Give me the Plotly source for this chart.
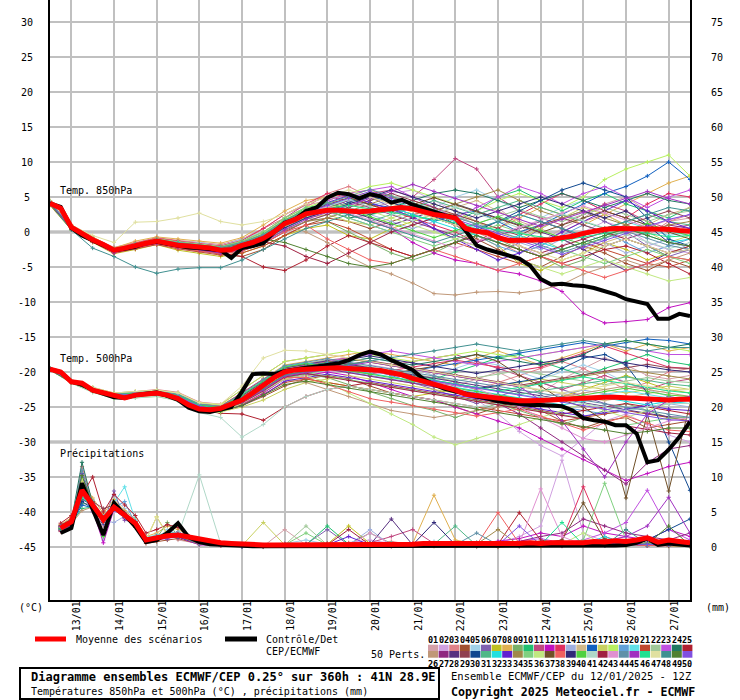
import plotly.graph_objects as go

# ---------------- data ----------------
HOURS_6 = list(range(0, 361, 6))
HOURS_12 = list(range(0, 361, 12))
PRECIP_HOURS = list(range(6, 361, 6))
PRECIP_MEMBER_HOURS = [6, 12, 18, 24, 30, 36, 42, 48, 54, 60, 66, 72] + list(range(84, 361, 12))

DATE_HOURS = [12, 36, 60, 84, 108, 132, 156, 180, 204, 228, 252, 276, 300, 324, 348]
DATE_LABELS = ["13/01", "14/01", "15/01", "16/01", "17/01", "18/01", "19/01", "20/01",
               "21/01", "22/01", "23/01", "24/01", "25/01", "26/01", "27/01"]
LEFT_TICKS = [30, 25, 20, 15, 10, 5, 0, -5, -10, -15, -20, -25, -30, -35, -40, -45]
RIGHT_TICKS = [75, 70, 65, 60, 55, 50, 45, 40, 35, 30, 25, 20, 15, 10, 5, 0]

MEMBER_COLORS = [
    "#d4a0a8", "#d0a0e0", "#e08088", "#a05030", "#a0d0e8", "#8060b0", "#c0c020", "#e0b050", "#78b068", "#20c070",
    "#c04880", "#c010c0", "#e03060", "#a0b0e0", "#d0b888", "#1060c0", "#c8d060", "#b8f060", "#60a0d8", "#60e0e8",
    "#c04830", "#a0c898", "#c050e0", "#207860", "#b02030",
    "#c09878", "#902880", "#583080", "#904050", "#104890", "#50b888", "#20e0e0", "#6020d0", "#a08848", "#80d080",
    "#c0e880", "#705028", "#f06060", "#302878", "#50d040", "#b0d8c8", "#a02040", "#e090d0", "#6090a8", "#a030c0",
    "#20e090", "#e0e0a0", "#409090", "#508030", "#8050e0",
]

MEAN_T850 = [4.1, 3.4, 0.7, -0.3, -1.1, -1.8, -2.6, -2.3, -1.9, -1.6,
             -1.3, -1.6, -1.9, -2.0, -2.1, -2.3, -2.6, -2.5, -1.9, -1.5,
             -0.9, 0.0, 1.2, 1.8, 2.6, 2.9, 3.1, 3.1, 3.0, 2.9,
             3.0, 3.2, 3.4, 3.5, 3.3, 2.9, 2.5, 2.3, 2.0, 0.5,
             0.1, -0.1, -0.8, -1.2, -1.2, -1.1, -1.2, -1.1, -0.8, -0.6,
             -0.2, 0.1, 0.4, 0.5, 0.5, 0.5, 0.4, 0.4, 0.4, 0.2, 0.1]
CONTROL_T850 = [4.1, 3.6, 0.6, -0.5, -1.2, -1.9, -2.6, -2.4, -2.1, -1.6,
                -1.4, -1.7, -2.0, -2.2, -2.3, -2.5, -2.6, -3.7, -2.3, -2.0,
                -1.6, 0.0, 1.3, 1.8, 3.0, 3.5, 4.9, 5.6, 5.4, 4.8,
                5.4, 5.1, 4.2, 4.6, 3.9, 3.4, 2.9, 2.4, 2.1, 0.2,
                -1.9, -2.5, -2.9, -3.3, -3.8, -4.8, -6.7, -7.5, -7.4, -7.6,
                -7.7, -8.0, -8.4, -8.9, -9.6, -10.0, -10.3, -12.4, -12.4, -11.7, -12.0]
MEAN_T500 = [-19.6, -20.0, -21.4, -21.6, -22.6, -23.0, -23.3, -23.7, -23.3, -23.1,
             -23.0, -23.3, -23.8, -24.7, -25.3, -25.4, -25.2, -24.6, -24.0, -23.0,
             -21.8, -20.8, -20.0, -19.7, -19.6, -19.5, -19.4, -19.4, -19.5, -19.6,
             -19.6, -19.8, -20.1, -20.4, -20.9, -21.3, -21.8, -22.2, -22.6, -23.2,
             -23.4, -23.6, -23.8, -24.0, -24.1, -24.1, -24.1, -24.0, -23.9, -23.8,
             -23.7, -23.6, -23.6, -23.6, -23.7, -23.7, -23.8, -23.9, -24.0, -23.9, -23.9]
CONTROL_T500 = [-19.6, -20.0, -21.4, -21.8, -22.6, -23.1, -23.6, -23.7, -23.3, -23.1,
                -22.9, -23.4, -24.0, -25.1, -25.6, -25.7, -25.4, -25.0, -22.8, -20.3,
                -20.2, -20.3, -19.9, -19.6, -19.4, -19.2, -19.0, -18.8, -18.3, -17.6,
                -17.1, -17.5, -18.3, -19.0, -19.7, -21.0, -21.8, -22.4, -22.8, -23.2,
                -23.5, -23.8, -24.2, -24.4, -24.6, -24.7, -24.7, -24.8, -24.9, -25.5,
                -26.6, -26.9, -27.1, -27.6, -27.6, -28.8, -32.9, -32.6, -31.1, -29.3, -27.1]
MEAN_PRECIP = [2.7, 3.6, 8.1, 6.0, 3.9, 5.7, 4.5, 3.4, 1.0, 1.3,
               1.6, 1.7, 1.4, 1.1, 0.9, 0.6, 0.5, 0.4, 0.3, 0.3,
               0.3, 0.3, 0.3, 0.3, 0.3, 0.3, 0.3, 0.3, 0.3, 0.3,
               0.3, 0.4, 0.4, 0.4, 0.5, 0.5, 0.5, 0.4, 0.4, 0.4,
               0.4, 0.5, 0.5, 0.5, 0.6, 0.5, 0.6, 0.6, 0.7, 0.6,
               0.8, 0.7, 0.9, 0.8, 1.0, 1.3, 0.7, 1.0, 0.8, 0.6]
CONTROL_PRECIP = [2.0, 2.7, 9.1, 5.5, 1.7, 6.3, 4.5, 2.9, 0.7, 1.0,
                  2.0, 3.4, 1.4, 0.7, 0.4, 0.3, 0.2, 0.2, 0.1, 0.1,
                  0.1, 0.1, 0.1, 0.1, 0.1, 0.1, 0.1, 0.1, 0.1, 0.1,
                  0.1, 0.1, 0.1, 0.1, 0.1, 0.1, 0.1, 0.1, 0.1, 0.1,
                  0.1, 0.1, 0.1, 0.1, 0.1, 0.1, 0.1, 0.1, 0.1, 0.1,
                  0.2, 0.2, 0.2, 0.3, 0.6, 1.2, 0.3, 0.5, 0.3, 0.2]

T850_MEMBERS = [
    [4.2, 0.8, -1.0, -2.5, -1.8, -1.0, -1.5, -2.0, -2.2, -1.5, 0.5, 2.5, 3.8, 4.5, 4.0, 3.5, 4.2, 3.0, 2.0, 1.0, 2.5, 3.5, 1.0, -1.5, 0.5, 2.0, 4.0, 5.0, 3.0, 1.5, 2.0],
    [3.9, 0.4, -1.4, -3.0, -2.2, -1.6, -2.4, -2.8, -3.0, -2.6, -1.5, 0.0, 1.5, 2.0, 3.5, 4.5, 5.5, 6.0, 4.5, 3.0, 1.5, -0.5, -2.0, -3.5, -2.0, 0.0, 1.5, 0.5, -1.5, -2.5, -3.0],
    [4.4, 0.9, -0.8, -2.2, -1.5, -0.8, -1.2, -1.5, -1.8, -1.0, 0.5, 2.0, 3.5, 5.5, 6.5, 5.0, 4.0, 4.5, 3.5, 2.0, 0.0, -1.5, -3.0, -2.0, 0.0, 1.5, 2.5, 1.0, -0.5, 1.5, 2.5],
    [4.0, 0.5, -1.3, -2.9, -2.3, -1.7, -2.2, -2.5, -3.2, -3.5, -2.5, -0.5, 1.0, 2.0, 1.5, 0.5, 1.5, 2.5, 3.0, 1.0, -1.0, -2.5, -4.0, -5.0, -3.5, -2.0, -3.0, -4.5, -5.5, -4.0, -5.0],
    [4.3, 0.7, -1.0, -2.6, -1.6, -1.0, -1.4, -1.5, -2.0, -1.0, 0.0, 1.5, 3.0, 3.5, 3.0, 3.8, 4.5, 4.0, 3.5, 5.0, 6.0, 4.5, 3.0, 2.0, 3.5, 4.5, 3.0, 2.0, 1.0, 0.0, -0.5],
    [4.1, 0.6, -1.2, -2.7, -2.0, -1.3, -1.8, -2.4, -2.6, -2.0, -1.0, 1.0, 2.0, 3.0, 4.0, 5.0, 3.5, 2.0, 0.5, -1.0, -2.0, -3.0, -1.5, 0.5, 2.0, 3.0, 1.5, 0.0, -2.0, -3.5, -2.5],
    [3.8, 0.3, -1.5, -3.1, -2.5, -1.8, -2.6, -3.0, -3.5, -3.0, -2.0, -0.5, 0.5, 1.0, -0.5, -1.0, 0.5, 1.5, 2.5, 1.5, -0.5, -2.0, -4.5, -5.5, -4.0, -3.0, -1.5, -2.5, -4.0, -3.0, -2.0],
    [4.5, 1.0, -0.7, -2.3, -1.3, -0.7, -1.0, -1.3, -1.6, -0.8, 1.0, 3.0, 4.5, 5.0, 5.5, 6.0, 5.0, 4.0, 3.0, 2.5, 1.5, 0.5, 2.0, 3.5, 2.5, 1.0, 2.5, 4.0, 5.5, 7.0, 8.0],
    [4.0, 0.4, -1.3, -2.8, -2.1, -1.5, -2.0, -2.3, -2.8, -2.5, -1.5, 0.5, 2.0, 1.5, 0.0, -1.5, -3.0, -4.0, -3.0, -1.5, 0.0, -1.0, -2.5, -3.5, -5.0, -4.0, -2.0, -1.0, -2.0, -3.5, -4.0],
    [4.2, 0.8, -1.1, -2.6, -1.9, -1.2, -1.7, -2.0, -2.3, -1.6, -0.5, 1.5, 3.5, 4.0, 3.5, 2.5, 3.0, 3.5, 2.5, 1.5, 3.0, 5.0, 6.0, 4.5, 3.0, 4.5, 5.5, 4.0, 3.0, 2.0, 3.5],
    [4.3, 0.9, -0.9, -2.4, -1.7, -1.1, -1.6, -1.9, -2.1, -1.4, 0.0, 2.0, 4.0, 5.0, 4.5, 5.5, 6.0, 5.0, 7.5, 10.5, 9.0, 5.0, 3.0, 2.0, 1.0, 2.5, 4.0, 3.0, 1.5, 0.5, 1.0],
    [4.0, 0.5, -1.2, -2.8, -2.2, -1.6, -2.1, -2.4, -2.9, -2.3, -1.0, 1.0, 2.5, 3.5, 2.5, 1.5, 0.5, -1.5, -3.0, -4.0, -4.5, -5.5, -6.0, -7.0, -8.5, -11.6, -13.0, -12.8, -12.5, -10.8, -10.1],
    [4.4, 0.8, -0.9, -2.4, -1.6, -0.9, -1.3, -1.7, -2.0, -1.2, 0.5, 2.5, 4.0, 5.5, 5.0, 4.0, 3.0, 2.0, 1.0, 0.0, -1.5, 0.5, 2.5, 4.0, 5.5, 4.5, 3.0, 2.0, 4.0, 5.5, 5.0],
    [4.1, 0.6, -1.2, -2.7, -2.0, -1.4, -1.9, -2.2, -2.7, -2.2, -1.2, 0.5, 1.5, 2.5, 3.5, 2.5, 1.5, 0.5, 1.5, 2.5, 1.0, -0.5, -1.5, -2.5, -1.0, 0.0, -1.5, -3.0, -2.0, -1.0, -2.5],
    [4.3, 0.7, -1.0, -2.5, -1.8, -1.2, -1.7, -2.1, -2.4, -1.8, -0.5, 1.5, 3.0, 4.5, 5.5, 5.0, 4.5, 3.5, 2.5, 3.5, 4.5, 3.0, 1.5, 0.5, -1.0, -2.5, -1.5, -0.5, 1.0, 2.5, 3.5],
    [4.2, 0.6, -1.1, -2.6, -1.9, -1.3, -1.8, -2.2, -2.5, -1.9, -0.8, 1.0, 2.5, 3.5, 4.5, 4.0, 3.5, 2.5, 1.5, 2.5, 3.0, 1.5, 0.0, 1.0, 2.5, 4.0, 5.5, 6.5, 8.0, 10.0, 7.5],
    [4.0, 0.5, -1.3, -2.9, -2.2, -1.6, -2.1, -2.5, -2.9, -2.4, -1.3, 0.5, 2.0, 2.5, 1.5, 1.0, 2.0, 3.0, 4.0, 3.0, 1.5, 0.0, -1.0, 0.5, 2.0, 3.5, 2.5, 1.0, 0.0, -1.5, -0.5],
    [4.4, 0.9, -0.9, -2.4, -1.7, -1.0, -1.4, -1.8, -2.1, -1.3, 0.0, 2.0, 3.5, 4.5, 5.5, 6.5, 7.0, 6.0, 5.0, 4.0, 3.0, 4.5, 5.5, 4.5, 3.5, 5.0, 7.5, 9.0, 10.0, 11.0, 8.0],
    [4.1, 0.5, -1.2, -2.8, -2.1, -1.5, -2.0, -2.4, -2.8, -2.3, -1.2, 0.5, 2.0, 3.0, 2.0, 1.0, 0.0, 1.0, 2.0, 1.0, -0.5, -2.0, -3.0, -2.0, -0.5, 1.0, 0.0, -1.5, -3.0, -2.0, -1.0],
    [4.2, 0.7, -1.1, -2.6, -1.9, -1.2, -1.7, -2.1, -2.4, -1.7, -0.6, 1.5, 3.0, 4.0, 4.5, 5.5, 4.5, 3.5, 2.5, 1.5, 0.5, 1.5, 2.5, 1.5, 0.5, -0.5, 0.5, 1.5, 0.5, -0.5, 0.0],
    [4.0, 0.4, -1.4, -3.0, -2.4, -1.8, -2.4, -2.8, -3.3, -3.0, -2.0, -0.5, 1.0, 1.5, 0.5, -1.0, -2.5, -3.5, -2.5, -1.5, -2.5, -3.5, -4.5, -3.5, -2.5, -1.5, -2.5, -3.5, -4.5, -5.0, -4.0],
    [4.3, 0.8, -1.0, -2.5, -1.8, -1.1, -1.5, -1.9, -2.2, -1.5, -0.2, 1.8, 3.2, 4.2, 3.8, 4.5, 5.2, 4.2, 3.2, 2.2, 1.2, 2.2, 3.2, 2.2, 1.5, 2.5, 3.5, 2.5, 1.5, 2.5, 3.0],
    [4.1, 0.6, -1.2, -2.7, -2.0, -1.4, -1.9, -2.2, -2.6, -2.0, -0.9, 1.2, 2.8, 4.5, 5.5, 6.0, 6.5, 5.0, 3.5, 2.0, 3.5, 5.0, 6.5, 5.5, 4.0, 5.5, 6.5, 5.0, 3.5, 5.0, 6.0],
    [4.2, 0.7, -1.1, -2.6, -1.9, -1.3, -1.8, -2.1, -2.5, -1.8, -0.7, 1.3, 2.5, 3.0, 2.0, 2.5, 3.5, 4.5, 5.5, 6.0, 5.5, 4.5, 3.5, 4.5, 5.5, 4.5, 3.5, 4.5, 5.5, 4.5, 4.0],
    [4.0, 0.5, -1.3, -2.9, -2.2, -1.6, -2.1, -2.5, -3.0, -3.5, -5.0, -5.5, -4.0, -2.0, -0.5, -1.5, -2.5, -3.5, -2.5, -1.5, -0.5, -1.5, -2.5, -3.5, -4.5, -3.5, -2.5, -2.0, -3.0, -4.5, -6.0],
    [4.3, 0.8, -1.0, -2.5, -1.8, -1.1, -1.6, -2.0, -2.3, -1.6, -0.6, 1.0, 0.0, -1.5, -3.5, -5.0, -6.0, -7.3, -8.8, -9.0, -8.6, -8.5, -8.7, -8.3, -7.5, -6.0, -5.0, -4.0, -5.0, -4.0, -3.0],
    [4.1, 0.6, -1.2, -2.7, -2.0, -1.4, -1.9, -2.3, -2.7, -2.1, -1.0, 1.0, 2.5, 3.5, 4.5, 3.5, 2.5, 1.5, 0.5, -0.5, -1.5, -0.5, 0.5, 1.5, 0.5, -1.0, -2.0, -1.0, 0.0, 1.0, 0.5],
    [4.2, 0.7, -1.1, -2.6, -1.9, -1.2, -1.7, -2.0, -2.4, -1.7, -0.5, 1.5, 3.0, 3.8, 3.0, 2.0, 1.0, 2.0, 3.0, 4.0, 3.0, 2.0, 1.0, 0.0, -1.0, -2.5, -4.0, -5.5, -4.5, -3.0, -2.5],
    [3.9, 0.4, -1.4, -3.0, -2.3, -1.7, -2.3, -2.7, -3.1, -2.7, -1.7, 0.0, 1.5, 2.5, 3.5, 4.5, 5.5, 4.5, 3.5, 2.5, 1.5, 0.5, -0.5, 1.0, 2.0, 1.0, 0.0, 1.0, 2.0, 3.0, 2.0],
    [4.0, 0.5, -1.3, -2.8, -2.1, -1.5, -2.0, -2.4, -2.8, -2.2, -1.1, 0.8, 2.2, 3.2, 4.2, 5.2, 4.2, 3.2, 2.2, 1.2, 0.2, 1.5, 3.0, 4.5, 6.0, 7.0, 6.0, 5.0, 2.0, -1.0, -2.0],
    [4.3, 0.8, -1.0, -2.5, -1.8, -1.1, -1.6, -2.0, -2.3, -1.6, -0.5, 1.5, 3.0, 3.5, 2.5, 1.5, 2.5, 3.5, 4.5, 3.5, 2.5, 3.5, 4.5, 3.5, 2.5, 1.5, 0.5, 1.5, 2.5, 1.5, 1.0],
    [4.1, 0.6, -1.2, -2.7, -2.0, -1.4, -1.9, -2.2, -2.6, -2.0, -0.9, 1.0, 2.5, 3.0, 2.5, 3.0, 3.5, 2.5, 1.5, 0.5, -0.5, -1.5, -0.5, -1.5, -2.5, -1.5, -0.5, 0.5, -0.5, -1.5, -1.0],
    [4.2, 0.7, -1.1, -2.6, -1.9, -1.3, -1.8, -2.1, -2.5, -1.9, -0.8, 1.2, 2.8, 4.2, 5.2, 4.2, 3.2, 2.2, 0.5, -1.0, -2.5, -4.0, -3.0, -1.5, 0.0, 1.5, 3.0, 4.5, 3.0, 1.5, 0.5],
    [4.0, 0.5, -1.3, -2.9, -2.2, -1.6, -2.1, -2.5, -2.9, -2.4, -1.3, 0.2, 1.5, 2.0, 3.0, 4.0, 5.0, 4.0, 3.0, 4.0, 5.0, 6.0, 4.5, 3.0, 2.0, 3.0, 2.0, 1.0, 0.0, 1.0, 1.5],
    [4.4, 0.9, -0.9, -2.4, -1.7, -1.0, -1.4, -1.8, -2.1, -1.3, 0.0, 2.0, 3.5, 3.0, 2.0, 1.0, 0.0, -1.0, -2.0, -1.0, 0.0, 1.0, 0.0, -1.0, -2.5, -3.5, -4.5, -3.5, -2.5, -3.5, -4.5],
    [4.1, 0.6, -1.2, -2.7, -2.0, -1.4, -1.9, -2.3, -2.7, -2.1, -1.0, 0.8, 2.2, 3.5, 4.0, 3.0, 2.0, 1.0, 0.0, -1.0, -2.0, -3.0, -4.0, -5.0, -6.0, -5.0, -4.0, -5.0, -6.0, -7.0, -6.5],
    [4.2, 0.7, -1.1, -2.6, -1.9, -1.2, -1.7, -2.0, -2.4, -1.7, -0.6, 1.4, 2.9, 3.9, 4.9, 3.9, 2.9, 3.9, 4.9, 3.9, 2.9, 1.9, 0.9, -0.1, 1.0, 2.0, 3.0, 2.0, 1.0, 0.0, -1.0],
    [4.0, 0.4, -1.4, -3.0, -2.3, -1.7, -2.3, -2.7, -3.1, -2.7, -1.6, 0.0, 1.0, -1.0, -2.5, -4.0, -4.5, -3.5, -2.5, -3.5, -4.5, -5.5, -4.5, -3.5, -4.5, -5.5, -6.5, -5.5, -4.5, -3.5, -4.0],
    [4.1, 0.6, -1.2, -2.8, -2.1, -1.5, -2.0, -2.4, -2.8, -2.3, -1.2, 0.6, 2.0, 3.0, 4.0, 5.0, 6.0, 5.0, 4.0, 3.0, 2.0, 3.0, 4.0, 5.0, 4.0, 3.0, 2.0, 3.0, 1.0, -1.5, -2.0],
    [4.3, 0.8, -1.0, -2.5, -1.8, -1.1, -1.6, -1.9, -2.2, -1.5, -0.3, 1.7, 3.2, 4.2, 3.2, 2.2, 1.2, 0.2, -0.8, 0.2, 1.2, 2.2, 1.2, 0.2, -0.8, -1.8, -0.8, 0.2, 1.2, 0.2, -0.5],
    [4.2, 0.7, -1.1, -2.6, -1.9, -1.3, -1.8, -2.2, -2.5, -1.9, -0.8, 1.1, 2.6, 3.6, 4.6, 3.6, 2.6, 1.6, 2.6, 3.6, 2.6, 1.6, 0.6, 1.6, 2.6, 1.6, 0.6, -0.4, -1.4, -2.4, -1.5],
    [4.0, 0.5, -1.3, -2.9, -2.2, -1.6, -2.1, -2.5, -2.9, -2.4, -1.4, -2.0, -3.5, -4.5, -3.0, -1.5, 0.0, 1.0, 2.0, 1.0, 0.0, -1.0, -2.0, -3.0, -2.0, -1.0, 0.0, -1.0, -2.0, -3.0, -2.0],
    [4.1, 0.6, -1.2, -2.7, -2.0, -1.4, -1.9, -2.2, -2.6, -2.0, -0.9, 1.2, 2.7, 3.7, 2.7, 1.7, 0.7, -0.3, -1.3, -2.3, -1.3, -0.3, 0.7, 1.7, 2.7, 3.7, 2.7, 1.7, 0.7, 1.7, 2.5],
    [4.3, 0.8, -1.0, -2.5, -1.8, -1.1, -1.5, -1.9, -2.2, -1.5, -0.4, 1.6, 3.1, 4.1, 5.1, 6.1, 5.1, 4.1, 3.1, 2.1, 1.1, 0.1, -0.9, -1.9, -2.9, -1.9, -0.9, 0.1, -0.9, -1.9, -2.5],
    [4.0, 0.5, -1.3, -2.9, -2.2, -1.6, -2.1, -2.5, -3.0, -2.5, -1.5, 0.3, 1.8, 2.8, 3.8, 4.8, 5.8, 6.8, 5.8, 4.8, 3.8, 2.8, 1.8, 0.8, 1.8, 2.8, 3.8, 4.8, 5.8, 4.8, 4.0],
    [4.2, 0.7, -1.1, -2.6, -1.9, -1.2, -1.7, -2.1, -2.4, -1.8, -0.7, 1.3, 2.8, 3.3, 3.8, 3.3, 2.8, 2.3, 1.8, 1.3, 0.8, 0.3, -0.2, -0.7, -1.2, -0.7, -0.2, 0.3, -0.2, -0.7, -0.5],
    [4.4, 1.0, -0.5, -1.5, 1.4, 1.5, 2.0, 2.7, 1.5, 1.0, 1.5, 2.5, 4.0, 5.0, 6.0, 5.0, 4.0, 3.0, 2.0, 1.0, 0.0, -1.0, -2.0, -3.0, -4.0, -3.0, -2.0, -1.0, -2.0, -3.0, -2.5],
    [4.0, 0.3, -2.3, -3.5, -5.0, -5.9, -5.3, -5.1, -5.1, -4.0, -2.5, -1.0, 0.5, 1.5, 2.5, 1.5, 0.5, -0.5, -1.5, -0.5, 0.5, 1.5, 2.5, 1.5, 0.5, -0.5, 0.5, 1.5, 2.5, 3.5, 3.0],
    [4.1, 0.6, -1.2, -2.7, -2.0, -1.4, -1.9, -2.3, -2.7, -2.1, -1.0, -1.5, -2.5, -3.5, -4.5, -5.0, -4.5, -3.5, -2.5, -1.5, -0.5, -1.5, -2.5, -3.5, -2.5, -1.5, -0.5, 0.5, -0.5, -1.5, -2.0],
    [4.2, 0.7, -1.1, -2.6, -1.9, -1.3, -1.8, -2.1, -2.5, -1.8, -0.7, 1.3, 2.8, 3.8, 4.8, 5.8, 4.8, 3.8, 2.8, 1.8, 0.8, -0.2, -1.2, -2.2, -3.2, -2.2, -1.2, -0.2, 0.8, 1.8, 2.5],
]

T500_MEMBERS = [
    [-19.6, -21.3, -22.4, -23.2, -23.0, -22.8, -23.2, -24.6, -25.0, -23.5, -21.5, -19.5, -19.0, -18.5, -18.8, -19.5, -20.0, -20.5, -21.5, -22.0, -21.0, -20.0, -21.5, -23.0, -21.0, -19.5, -18.0, -19.0, -20.5, -21.0, -20.5],
    [-19.7, -21.5, -22.8, -23.6, -23.5, -23.3, -23.8, -25.2, -25.5, -24.5, -23.0, -21.0, -20.5, -20.0, -19.5, -19.0, -19.5, -20.5, -21.5, -22.5, -24.0, -26.0, -28.5, -30.5, -32.0, -29.5, -27.0, -26.0, -27.5, -29.0, -30.0],
    [-19.5, -21.2, -22.2, -23.0, -22.8, -22.5, -22.9, -24.3, -24.6, -22.5, -20.5, -18.5, -18.0, -17.5, -18.0, -18.5, -19.0, -19.5, -20.5, -21.5, -22.5, -21.5, -20.5, -19.5, -18.5, -19.5, -21.0, -22.5, -21.5, -20.0, -19.5],
    [-19.6, -21.4, -22.6, -23.4, -23.3, -23.1, -23.6, -25.0, -25.4, -24.8, -23.5, -22.0, -21.0, -20.5, -21.0, -22.0, -23.0, -23.5, -24.0, -25.0, -26.0, -25.0, -24.0, -25.5, -27.0, -28.0, -27.0, -26.5, -28.0, -27.5, -27.0],
    [-19.6, -21.3, -22.5, -23.3, -23.1, -22.9, -23.4, -24.8, -25.1, -23.8, -22.0, -20.0, -19.5, -19.0, -18.5, -18.0, -18.5, -19.5, -20.5, -19.5, -18.5, -19.0, -20.0, -21.0, -20.0, -19.0, -20.0, -21.5, -22.5, -23.5, -24.0],
    [-19.7, -21.4, -22.7, -23.5, -23.4, -23.2, -23.7, -25.1, -25.5, -24.5, -22.5, -20.5, -20.0, -19.5, -19.0, -19.5, -20.5, -21.5, -22.5, -23.5, -24.5, -23.5, -22.5, -21.5, -22.5, -23.5, -24.5, -25.5, -24.5, -23.5, -24.0],
    [-19.5, -21.3, -22.5, -23.3, -23.2, -23.0, -23.5, -24.9, -25.3, -24.0, -22.0, -20.5, -21.0, -21.5, -22.0, -22.5, -23.0, -23.5, -23.0, -22.5, -23.5, -24.5, -25.5, -24.5, -23.5, -22.5, -21.5, -20.5, -21.5, -22.5, -23.0],
    [-19.6, -21.2, -22.3, -23.1, -22.9, -22.7, -23.1, -24.5, -24.8, -23.0, -21.0, -19.0, -18.5, -18.0, -17.5, -17.0, -17.5, -18.0, -18.5, -19.0, -18.0, -17.0, -18.0, -19.0, -18.0, -17.0, -16.0, -17.0, -16.0, -17.0, -16.5],
    [-19.6, -21.4, -22.6, -23.4, -23.3, -23.1, -23.6, -25.0, -25.3, -24.3, -22.8, -20.8, -20.3, -20.8, -21.8, -22.8, -23.8, -24.8, -25.5, -26.5, -25.5, -24.5, -25.5, -26.5, -27.5, -26.5, -25.5, -24.5, -25.5, -26.5, -27.0],
    [-19.6, -21.3, -22.5, -23.3, -23.2, -23.0, -23.4, -24.8, -25.2, -23.5, -21.5, -19.5, -19.0, -18.5, -19.0, -19.5, -20.0, -20.5, -21.0, -20.0, -19.0, -18.0, -17.5, -18.5, -19.5, -20.5, -19.5, -18.5, -17.5, -18.5, -19.0],
    [-19.5, -21.2, -22.3, -23.1, -22.9, -22.7, -23.2, -24.6, -24.9, -23.0, -21.0, -19.3, -18.8, -18.3, -18.0, -18.5, -19.0, -18.5, -18.0, -17.5, -18.5, -19.5, -20.5, -21.5, -22.5, -21.5, -20.5, -21.5, -22.5, -21.5, -21.0],
    [-19.7, -21.5, -22.7, -23.5, -23.4, -23.2, -23.8, -25.2, -25.6, -24.6, -23.0, -21.0, -20.5, -20.0, -20.5, -21.5, -22.5, -23.5, -24.0, -25.0, -26.0, -27.0, -28.0, -29.5, -31.0, -32.5, -34.0, -35.5, -34.5, -33.5, -32.9],
    [-19.6, -21.3, -22.4, -23.2, -23.0, -22.8, -23.3, -24.7, -25.0, -23.3, -21.3, -19.3, -18.8, -19.3, -19.8, -20.3, -19.8, -19.3, -18.8, -18.3, -18.8, -19.3, -19.8, -19.3, -18.3, -17.3, -16.3, -17.3, -18.3, -19.3, -19.5],
    [-19.6, -21.4, -22.6, -23.4, -23.3, -23.1, -23.6, -25.0, -25.4, -24.4, -22.6, -20.6, -20.1, -19.6, -20.1, -20.6, -21.1, -21.6, -22.1, -22.6, -23.1, -23.6, -24.1, -23.6, -23.1, -22.6, -23.1, -23.6, -24.1, -24.6, -25.0],
    [-19.5, -21.3, -22.4, -23.2, -23.1, -22.9, -23.3, -24.7, -25.1, -23.6, -21.6, -19.6, -19.1, -18.6, -18.1, -18.6, -19.1, -19.6, -20.1, -20.6, -21.1, -21.6, -22.1, -22.6, -23.1, -23.6, -24.1, -23.6, -23.1, -22.6, -22.5],
    [-19.6, -21.4, -22.5, -23.3, -23.2, -23.0, -23.5, -24.9, -25.2, -23.8, -21.8, -19.8, -19.3, -18.8, -19.3, -19.8, -20.3, -19.8, -19.3, -18.8, -18.3, -17.8, -17.3, -16.8, -16.3, -15.8, -16.3, -15.8, -15.3, -15.5, -16.0],
    [-19.7, -21.5, -22.8, -23.6, -23.5, -23.3, -23.9, -25.3, -25.7, -25.0, -24.0, -22.5, -21.5, -21.0, -20.5, -21.0, -21.5, -22.0, -22.5, -23.0, -22.5, -22.0, -21.5, -21.0, -21.5, -22.0, -22.5, -23.0, -22.5, -22.0, -22.5],
    [-19.5, -21.2, -22.2, -23.0, -22.8, -22.6, -23.0, -24.4, -24.7, -22.5, -20.5, -18.5, -18.0, -17.5, -17.0, -17.5, -18.0, -18.5, -18.0, -17.5, -17.0, -17.5, -18.0, -17.5, -17.0, -16.5, -16.0, -15.5, -16.0, -16.5, -17.0],
    [-19.6, -21.4, -22.6, -23.4, -23.3, -23.1, -23.6, -25.0, -25.4, -24.2, -22.5, -20.5, -20.0, -19.5, -20.0, -20.5, -21.0, -21.5, -22.0, -22.5, -23.0, -23.5, -24.0, -24.5, -25.0, -25.5, -26.0, -25.5, -25.0, -24.5, -24.0],
    [-19.6, -21.3, -22.5, -23.3, -23.1, -22.9, -23.4, -24.8, -25.2, -23.7, -21.7, -19.7, -19.2, -18.7, -19.2, -19.7, -20.2, -20.7, -21.2, -21.7, -22.2, -22.7, -23.2, -23.7, -24.2, -23.7, -23.2, -22.7, -23.2, -23.7, -24.0],
    [-19.7, -21.5, -22.7, -23.5, -23.4, -23.2, -23.7, -25.1, -25.5, -24.7, -23.2, -21.5, -21.0, -21.5, -22.0, -22.5, -23.0, -23.5, -24.0, -24.5, -25.0, -25.5, -26.0, -26.5, -27.0, -26.5, -26.0, -25.5, -26.0, -26.5, -27.0],
    [-19.6, -21.3, -22.4, -23.2, -23.0, -22.8, -23.3, -24.7, -25.0, -23.3, -21.3, -19.3, -18.8, -18.3, -18.8, -19.3, -19.8, -20.3, -20.8, -21.3, -20.8, -20.3, -19.8, -20.3, -20.8, -21.3, -21.8, -21.3, -20.8, -21.3, -21.5],
    [-19.5, -21.3, -22.4, -23.2, -23.1, -22.9, -23.4, -24.8, -25.1, -23.5, -21.5, -19.5, -19.0, -18.5, -18.0, -17.5, -17.0, -17.5, -18.0, -18.5, -19.0, -18.5, -18.0, -17.5, -17.0, -16.5, -16.0, -16.5, -17.0, -17.5, -17.5],
    [-19.6, -21.4, -22.6, -23.4, -23.3, -23.1, -23.6, -25.0, -25.4, -24.0, -22.0, -20.0, -19.5, -19.0, -18.5, -18.0, -18.5, -19.0, -18.5, -18.0, -17.5, -18.0, -18.5, -19.0, -18.5, -17.5, -16.0, -15.5, -16.0, -16.5, -16.0],
    [-19.7, -21.5, -22.8, -23.6, -23.5, -23.3, -23.9, -25.4, -25.9, -26.0, -26.9, -25.0, -23.5, -22.5, -22.0, -21.5, -22.0, -22.5, -23.0, -23.5, -24.0, -24.5, -25.0, -25.5, -26.0, -25.5, -25.0, -24.5, -25.0, -25.5, -26.0],
    [-19.6, -21.3, -22.5, -23.3, -23.1, -22.9, -23.4, -24.8, -25.2, -23.8, -22.3, -21.0, -21.5, -22.5, -23.5, -24.5, -25.5, -26.0, -26.5, -26.0, -25.5, -25.0, -24.5, -24.0, -23.5, -23.0, -22.5, -22.0, -22.5, -23.0, -23.5],
    [-19.6, -21.4, -22.6, -23.4, -23.3, -23.1, -23.6, -25.0, -25.4, -24.3, -22.6, -20.6, -20.1, -19.6, -20.1, -20.6, -21.1, -21.6, -22.1, -22.6, -23.1, -24.5, -26.0, -28.0, -30.0, -32.0, -34.0, -36.0, -33.0, -31.0, -30.5],
    [-19.5, -21.3, -22.4, -23.2, -23.0, -22.8, -23.3, -24.7, -25.0, -23.4, -21.4, -19.4, -18.9, -18.4, -18.9, -19.4, -19.9, -20.4, -20.9, -21.4, -21.9, -22.4, -22.9, -23.4, -23.9, -24.4, -24.9, -25.4, -25.9, -26.4, -26.5],
    [-19.6, -21.4, -22.6, -23.4, -23.3, -23.1, -23.6, -25.0, -25.3, -24.1, -22.4, -20.4, -19.9, -19.4, -18.9, -18.4, -18.9, -19.4, -19.9, -20.4, -20.9, -21.4, -21.9, -21.4, -20.9, -20.4, -19.9, -19.4, -18.9, -19.4, -19.5],
    [-19.6, -21.3, -22.5, -23.3, -23.2, -23.0, -23.5, -24.9, -25.3, -23.9, -21.9, -19.9, -19.4, -18.9, -19.4, -19.9, -20.4, -20.9, -21.4, -21.9, -22.4, -21.9, -21.4, -20.9, -19.5, -18.0, -17.5, -19.0, -23.0, -30.0, -36.9],
    [-19.6, -21.4, -22.6, -23.4, -23.3, -23.1, -23.6, -25.0, -25.4, -24.4, -22.7, -20.7, -20.2, -19.7, -19.2, -19.7, -20.2, -20.7, -21.2, -21.7, -22.2, -22.7, -23.2, -22.7, -22.2, -21.7, -21.2, -20.7, -21.2, -21.7, -22.0],
    [-19.5, -21.2, -22.3, -23.1, -22.9, -22.7, -23.2, -24.6, -25.0, -23.2, -21.2, -19.2, -18.7, -19.2, -19.7, -20.2, -20.7, -21.2, -21.7, -22.2, -22.7, -23.2, -23.7, -24.2, -24.7, -24.2, -23.7, -24.2, -24.7, -24.2, -24.5],
    [-19.7, -21.5, -22.7, -23.5, -23.4, -23.2, -23.8, -25.2, -25.6, -24.8, -23.3, -21.3, -20.8, -20.3, -20.8, -21.3, -21.8, -22.3, -22.8, -23.3, -23.8, -24.3, -24.8, -25.3, -25.8, -26.3, -25.8, -25.3, -24.8, -25.3, -25.5],
    [-19.6, -21.3, -22.5, -23.3, -23.2, -23.0, -23.4, -24.8, -25.2, -23.6, -21.6, -19.6, -19.1, -18.6, -18.1, -18.6, -19.1, -19.6, -20.1, -20.6, -21.1, -21.6, -22.1, -21.6, -21.1, -20.6, -20.1, -19.6, -20.1, -20.6, -21.0],
    [-19.6, -21.4, -22.6, -23.4, -23.3, -23.1, -23.6, -25.0, -25.4, -24.3, -22.6, -20.6, -20.1, -20.6, -21.1, -21.6, -22.1, -22.6, -23.1, -23.6, -24.1, -24.6, -25.1, -25.6, -26.1, -26.6, -27.1, -27.6, -27.1, -26.6, -26.5],
    [-19.7, -21.6, -22.9, -23.8, -23.7, -23.5, -24.1, -25.6, -25.8, -24.5, -22.8, -21.0, -20.5, -21.5, -23.0, -24.5, -26.0, -27.5, -29.3, -30.4, -29.5, -28.5, -27.5, -26.5, -25.5, -24.5, -25.5, -26.5, -25.5, -24.5, -24.5],
    [-19.6, -21.3, -22.5, -23.3, -23.1, -22.9, -23.4, -24.8, -25.2, -23.7, -21.7, -19.7, -19.2, -18.7, -19.2, -19.7, -20.2, -19.7, -19.2, -18.2, -17.5, -18.5, -20.5, -22.0, -24.0, -25.0, -27.0, -38.0, -26.0, -37.0, -24.5],
    [-19.6, -21.4, -22.6, -23.4, -23.3, -23.1, -23.6, -25.0, -25.4, -24.2, -22.5, -20.8, -20.8, -21.8, -22.8, -23.8, -24.3, -24.8, -25.3, -25.8, -26.3, -25.8, -25.3, -26.3, -27.3, -28.3, -27.3, -26.3, -27.3, -28.3, -28.5],
    [-19.6, -21.3, -22.5, -23.3, -23.1, -22.9, -23.4, -24.8, -25.2, -23.7, -21.7, -19.7, -19.2, -18.7, -18.2, -17.7, -18.2, -18.7, -19.2, -19.7, -20.2, -19.7, -19.2, -18.7, -18.2, -17.7, -18.2, -18.7, -19.2, -19.7, -20.0],
    [-19.5, -21.3, -22.4, -23.2, -23.0, -22.8, -23.3, -24.7, -25.0, -23.3, -21.3, -19.3, -18.8, -19.3, -19.8, -20.3, -20.8, -21.3, -21.8, -22.3, -22.8, -23.3, -23.8, -24.3, -23.8, -23.3, -22.8, -22.3, -22.8, -23.3, -23.5],
    [-19.7, -21.6, -22.9, -23.8, -23.7, -23.5, -24.1, -25.8, -26.5, -29.3, -27.5, -25.0, -23.5, -22.5, -22.0, -22.5, -23.0, -23.5, -24.0, -24.5, -25.0, -24.5, -24.0, -23.5, -24.0, -24.5, -25.0, -25.5, -25.0, -24.5, -24.5],
    [-19.6, -21.4, -22.6, -23.4, -23.3, -23.1, -23.6, -25.0, -25.4, -24.4, -22.7, -20.7, -20.2, -20.7, -21.2, -21.7, -22.2, -22.7, -23.2, -23.7, -24.2, -24.7, -25.2, -25.7, -26.2, -26.7, -27.2, -27.7, -28.2, -28.7, -29.0],
    [-19.6, -21.3, -22.5, -23.3, -23.2, -23.0, -23.5, -24.9, -25.3, -23.9, -21.9, -19.9, -19.4, -18.9, -19.4, -19.9, -20.4, -20.9, -21.4, -21.9, -22.4, -23.5, -25.0, -26.5, -28.0, -29.5, -30.0, -29.0, -28.0, -27.0, -26.5],
    [-19.5, -21.2, -22.3, -23.1, -22.9, -22.7, -23.2, -24.6, -24.9, -23.1, -21.1, -19.1, -18.6, -18.1, -18.6, -19.1, -19.6, -20.1, -20.6, -21.1, -21.6, -22.1, -22.6, -23.1, -23.6, -24.1, -24.6, -25.1, -25.6, -26.1, -26.5],
    [-19.6, -21.4, -22.6, -23.4, -23.3, -23.1, -23.6, -25.0, -25.4, -24.3, -22.6, -20.6, -20.1, -19.6, -19.1, -18.6, -19.1, -19.6, -20.1, -20.6, -21.1, -21.6, -22.1, -24.0, -27.0, -31.0, -35.0, -30.0, -26.0, -24.0, -23.5],
    [-19.6, -21.3, -22.5, -23.3, -23.1, -22.9, -23.4, -24.8, -25.2, -23.7, -21.7, -19.7, -19.2, -18.7, -19.2, -19.7, -20.2, -20.7, -21.2, -21.7, -22.2, -22.7, -22.2, -21.7, -21.2, -20.7, -21.2, -21.7, -22.2, -22.7, -23.0],
    [-19.5, -21.2, -22.2, -23.0, -22.8, -22.6, -23.0, -24.4, -24.6, -22.0, -18.0, -16.9, -17.0, -17.5, -18.0, -18.5, -19.0, -19.5, -20.0, -20.5, -21.0, -21.5, -22.0, -22.5, -23.0, -22.5, -22.0, -21.5, -22.0, -22.5, -22.5],
    [-19.6, -21.4, -22.6, -23.4, -23.3, -23.1, -23.6, -25.0, -25.4, -24.2, -22.4, -20.4, -19.9, -19.4, -18.9, -18.4, -17.9, -17.4, -17.0, -16.5, -16.0, -16.5, -17.0, -16.5, -16.0, -15.5, -16.0, -16.5, -17.0, -16.5, -16.5],
    [-19.7, -21.5, -22.7, -23.5, -23.4, -23.2, -23.8, -25.2, -25.6, -24.8, -23.3, -21.8, -21.3, -21.8, -22.3, -22.8, -23.3, -23.8, -24.3, -24.8, -25.3, -25.8, -26.3, -26.8, -27.3, -27.8, -28.3, -28.8, -28.5, -28.0, -28.0],
    [-19.6, -21.3, -22.5, -23.3, -23.2, -23.0, -23.5, -24.9, -25.3, -23.8, -21.8, -19.8, -19.3, -18.8, -19.3, -19.8, -20.3, -20.8, -21.3, -21.8, -22.3, -22.8, -23.3, -23.8, -24.3, -24.8, -25.3, -25.8, -26.3, -26.8, -27.0],
]

PRECIP_MEMBERS = [
    [2.5, 3.2, 7.5, 5.5, 3.0, 6.0, 4.0, 3.0, 0.8, 1.5, 2.0, 1.0, 0.5, 0.3, 0.2, 0.1, 2.5, 0.3, 0.5, 0.2, 0.1, 0.3, 0.5, 0.2, 0.1, 0.0, 0.2, 0.4, 0.3, 0.1, 0.5, 1.0, 0.4, 0.2, 0.3, 0.1],
    [2.8, 4.0, 9.0, 6.5, 4.5, 5.0, 5.0, 3.5, 1.2, 1.0, 1.2, 1.5, 0.8, 0.4, 0.3, 0.2, 0.4, 0.2, 0.3, 0.6, 1.0, 0.5, 0.3, 0.2, 0.4, 0.3, 0.5, 1.5, 3.0, 12.4, 2.0, 0.8, 1.5, 0.6, 0.4, 0.2],
    [3.0, 3.5, 11.5, 6.2, 3.5, 6.5, 4.8, 3.8, 1.0, 1.8, 1.4, 2.0, 0.6, 0.2, 0.1, 0.1, 0.3, 0.5, 0.2, 0.1, 0.4, 0.8, 0.3, 0.2, 0.1, 0.2, 0.3, 0.1, 0.2, 0.5, 0.3, 0.2, 0.4, 0.2, 0.1, 0.3],
    [2.2, 3.8, 8.5, 5.8, 4.0, 5.5, 4.2, 2.8, 0.5, 0.8, 1.0, 1.2, 0.4, 0.2, 0.1, 0.0, 0.1, 0.2, 0.1, 0.3, 0.2, 0.1, 0.4, 0.6, 0.2, 0.1, 0.0, 0.2, 0.5, 0.3, 0.2, 1.2, 0.5, 0.3, 0.2, 0.1],
    [2.6, 3.3, 7.8, 6.8, 1.0, 7.0, 5.5, 3.0, 1.5, 1.2, 2.5, 1.8, 0.5, 0.3, 0.2, 0.3, 0.5, 1.0, 0.4, 0.2, 0.1, 0.3, 0.5, 0.8, 0.3, 0.2, 0.4, 0.3, 0.2, 0.4, 0.6, 0.3, 0.2, 0.5, 0.3, 0.2],
    [2.9, 3.7, 8.8, 5.0, 3.2, 8.0, 3.8, 3.6, 0.9, 1.4, 1.1, 2.2, 0.7, 0.3, 0.2, 0.1, 0.2, 0.4, 2.5, 0.3, 0.2, 0.1, 0.3, 0.2, 0.4, 0.3, 0.2, 0.1, 0.3, 0.2, 0.5, 0.4, 0.3, 0.2, 0.4, 0.3],
    [2.4, 3.0, 7.2, 6.0, 3.8, 5.8, 4.5, 3.2, 1.0, 4.3, 1.8, 1.5, 0.4, 0.2, 0.2, 0.1, 0.3, 0.2, 0.4, 3.0, 0.5, 0.2, 0.3, 0.1, 0.2, 0.4, 0.3, 0.2, 0.1, 0.3, 0.2, 0.5, 0.3, 0.6, 0.2, 0.1],
    [3.2, 4.2, 9.5, 7.0, 4.8, 6.8, 5.2, 4.0, 1.5, 2.0, 3.0, 2.5, 1.0, 0.5, 0.3, 0.2, 0.4, 0.3, 0.5, 0.6, 0.4, 0.3, 0.5, 7.4, 1.0, 0.4, 0.3, 0.2, 0.5, 0.3, 0.2, 0.4, 0.3, 0.2, 0.5, 0.3],
    [2.7, 3.6, 6.2, 6.1, 4.0, 5.6, 4.4, 3.3, 1.1, 1.3, 3.5, 1.6, 0.5, 0.3, 0.2, 0.2, 0.3, 0.2, 0.3, 0.4, 2.0, 0.5, 0.3, 0.2, 0.3, 0.2, 0.4, 0.3, 0.5, 0.3, 0.2, 0.6, 0.4, 0.3, 0.2, 0.4],
    [2.5, 3.4, 5.5, 5.7, 3.6, 5.9, 4.6, 3.5, 0.9, 1.2, 1.7, 1.9, 0.6, 0.3, 0.1, 0.1, 0.2, 0.3, 3.0, 0.4, 0.3, 0.5, 0.2, 0.3, 0.4, 0.6, 0.3, 0.2, 0.3, 0.5, 0.4, 0.3, 0.2, 0.3, 0.4, 0.2],
    [3.1, 3.9, 8.6, 6.4, 4.3, 6.1, 4.9, 3.7, 1.3, 1.5, 1.9, 2.1, 0.7, 0.4, 0.3, 0.2, 0.5, 0.4, 0.3, 0.5, 0.6, 1.5, 2.5, 0.5, 0.3, 0.2, 0.4, 0.3, 0.2, 0.5, 0.3, 0.4, 0.6, 0.3, 0.2, 0.3],
    [2.3, 3.1, 7.4, 5.3, 0.6, 5.4, 4.1, 3.1, 0.7, 1.0, 1.3, 1.4, 0.3, 0.2, 0.1, 0.1, 0.2, 0.3, 0.2, 0.3, 0.4, 0.3, 0.5, 0.4, 0.6, 0.5, 0.8, 1.2, 2.0, 1.5, 3.0, 2.0, 1.5, 1.0, 2.5, 1.5],
    [2.8, 3.7, 8.3, 6.2, 4.1, 5.8, 4.6, 3.5, 1.1, 1.4, 1.7, 1.8, 0.5, 0.3, 0.2, 0.2, 0.3, 0.2, 0.4, 0.3, 0.2, 0.4, 0.3, 0.5, 0.3, 0.2, 0.4, 0.6, 0.5, 1.0, 8.6, 1.5, 0.5, 0.4, 0.3, 0.2],
    [2.6, 3.5, 8.0, 5.9, 3.8, 3.5, 4.4, 3.3, 1.0, 1.3, 1.6, 1.7, 0.4, 0.2, 0.2, 0.1, 0.2, 0.3, 0.2, 0.3, 2.5, 0.2, 0.3, 0.2, 0.4, 0.3, 0.2, 0.3, 0.4, 0.2, 0.3, 0.5, 0.3, 0.2, 0.3, 0.2],
    [3.0, 3.8, 8.4, 6.3, 4.2, 5.9, 4.7, 3.6, 1.2, 1.5, 1.8, 1.9, 0.6, 0.3, 0.3, 0.2, 0.3, 0.4, 0.3, 0.2, 0.3, 0.4, 0.2, 0.3, 0.2, 0.4, 0.3, 0.2, 0.3, 0.4, 0.5, 0.3, 0.2, 0.4, 0.3, 0.2],
    [2.4, 3.3, 6.0, 5.6, 3.5, 5.3, 4.2, 3.1, 0.8, 1.1, 1.4, 1.5, 0.4, 0.2, 0.1, 0.1, 0.2, 0.2, 0.3, 0.2, 0.5, 0.3, 0.2, 0.4, 0.3, 0.2, 0.3, 0.5, 0.4, 0.3, 0.2, 0.4, 0.6, 0.3, 0.2, 0.3],
    [2.9, 3.6, 8.1, 6.0, 4.0, 5.7, 4.5, 3.4, 1.0, 1.3, 1.6, 1.7, 0.5, 0.3, 0.2, 3.5, 0.3, 0.2, 0.3, 0.4, 0.3, 0.2, 0.4, 0.3, 0.2, 0.3, 0.4, 0.3, 0.2, 0.3, 0.4, 0.3, 0.2, 0.5, 0.3, 0.2],
    [2.7, 3.5, 7.7, 5.8, 3.7, 5.5, 4.3, 3.2, 0.9, 1.2, 1.5, 1.6, 0.4, 0.2, 0.2, 0.1, 0.2, 0.3, 0.2, 0.3, 0.2, 0.4, 0.3, 0.2, 0.3, 0.2, 0.3, 0.4, 0.3, 0.2, 0.3, 0.2, 0.4, 0.3, 0.2, 0.3],
    [2.5, 3.4, 7.9, 5.6, 3.6, 5.6, 6.5, 3.3, 1.0, 1.3, 1.6, 1.7, 0.5, 0.3, 0.2, 0.2, 0.3, 0.2, 0.4, 0.3, 0.2, 0.3, 0.4, 0.3, 0.5, 0.4, 0.3, 0.2, 0.3, 0.4, 0.3, 0.2, 0.3, 0.2, 0.4, 0.3],
    [2.8, 3.8, 8.7, 6.6, 4.4, 6.3, 8.6, 3.8, 1.4, 1.7, 2.0, 2.1, 0.6, 0.4, 0.3, 0.2, 0.4, 0.3, 0.5, 0.4, 0.3, 0.5, 0.4, 0.3, 0.5, 0.6, 0.4, 0.3, 0.5, 0.4, 0.3, 0.6, 0.4, 0.3, 0.5, 0.4],
    [2.6, 3.4, 7.8, 5.9, 2.0, 5.7, 4.5, 3.4, 1.0, 1.3, 1.6, 1.7, 0.5, 0.3, 0.2, 0.2, 0.3, 0.2, 0.3, 0.4, 0.3, 0.2, 0.3, 0.4, 0.3, 0.2, 0.3, 0.4, 0.3, 0.2, 0.3, 0.4, 0.3, 0.2, 0.3, 0.2],
    [3.0, 3.9, 8.5, 6.3, 4.1, 5.9, 4.6, 3.5, 1.1, 1.4, 1.7, 1.8, 0.5, 0.3, 0.2, 0.2, 0.3, 3.0, 0.3, 0.2, 0.3, 0.4, 0.3, 0.2, 0.3, 0.4, 0.3, 0.2, 0.4, 0.3, 0.2, 0.3, 0.4, 0.3, 0.2, 0.3],
    [2.7, 3.6, 8.2, 6.1, 4.0, 5.8, 4.5, 3.4, 1.0, 1.3, 1.6, 1.7, 0.5, 0.3, 0.2, 0.2, 0.3, 0.2, 0.3, 0.4, 0.3, 0.2, 0.3, 0.4, 0.3, 0.2, 0.5, 0.8, 1.2, 0.6, 1.0, 2.0, 3.5, 8.1, 2.5, 1.0],
    [2.9, 3.7, 12.1, 6.2, 4.1, 5.9, 4.6, 3.5, 1.1, 1.4, 1.7, 1.8, 0.5, 0.3, 0.2, 0.2, 0.3, 0.4, 0.3, 0.2, 0.3, 0.2, 0.3, 0.4, 0.3, 0.2, 0.3, 0.4, 0.3, 0.2, 0.4, 0.3, 0.2, 0.3, 0.4, 0.3],
    [3.4, 4.5, 7.5, 10.0, 5.0, 7.5, 6.0, 4.5, 2.0, 2.5, 3.2, 2.8, 0.8, 0.5, 0.3, 0.2, 0.4, 0.3, 0.5, 0.4, 0.3, 0.2, 0.4, 0.3, 0.5, 0.6, 0.4, 4.9, 1.0, 0.5, 0.3, 0.4, 0.6, 0.3, 0.2, 0.4],
    [2.5, 3.3, 5.2, 5.7, 3.7, 5.5, 4.3, 3.2, 0.9, 1.2, 1.5, 1.6, 0.4, 0.2, 0.2, 0.1, 0.2, 0.3, 0.2, 0.3, 0.2, 0.3, 0.2, 0.3, 0.2, 0.3, 0.2, 0.3, 0.2, 0.3, 0.2, 0.3, 0.2, 0.3, 0.2, 0.3],
    [2.8, 3.7, 8.2, 6.1, 4.0, 5.8, 4.5, 3.4, 1.0, 1.3, 1.6, 1.7, 0.5, 0.3, 0.2, 0.2, 0.3, 0.4, 0.3, 0.2, 0.3, 0.2, 0.3, 0.4, 0.5, 0.3, 0.6, 0.8, 1.5, 2.0, 4.0, 3.0, 2.0, 1.5, 1.0, 2.0],
    [2.6, 3.5, 8.0, 5.9, 3.9, 5.6, 4.4, 3.3, 1.0, 1.3, 1.6, 1.7, 0.5, 0.3, 0.2, 0.2, 0.3, 0.2, 0.3, 0.4, 0.3, 4.0, 0.3, 0.4, 0.3, 0.2, 0.3, 0.4, 0.3, 0.2, 0.3, 0.4, 0.3, 0.2, 0.3, 0.4],
    [3.1, 4.0, 8.9, 6.5, 5.5, 6.0, 4.8, 3.6, 1.2, 1.5, 1.8, 1.9, 0.6, 0.3, 0.2, 0.2, 0.3, 0.4, 0.3, 0.2, 0.3, 0.4, 0.3, 0.2, 0.3, 0.4, 0.3, 0.2, 0.3, 0.4, 0.3, 0.2, 0.3, 0.4, 0.3, 0.2],
    [2.4, 3.2, 6.5, 5.5, 3.5, 5.4, 4.2, 3.1, 0.8, 1.1, 1.4, 1.5, 0.4, 0.2, 0.1, 0.1, 0.2, 0.3, 0.2, 0.3, 0.2, 0.3, 0.2, 0.3, 0.4, 0.3, 0.2, 0.3, 0.4, 0.5, 0.3, 0.4, 0.6, 1.0, 2.5, 4.0],
    [2.7, 3.6, 8.1, 6.0, 3.9, 5.7, 4.5, 3.4, 1.0, 1.3, 1.6, 1.7, 0.5, 0.3, 0.2, 0.2, 0.3, 0.2, 0.3, 0.4, 0.3, 0.2, 0.3, 0.4, 3.0, 0.2, 0.3, 0.4, 0.3, 0.2, 0.3, 0.4, 0.3, 0.2, 0.3, 0.4],
    [2.9, 3.8, 8.4, 6.2, 4.1, 5.9, 4.6, 3.5, 1.1, 1.4, 1.7, 1.8, 0.5, 0.3, 0.2, 0.2, 0.3, 0.4, 0.3, 0.2, 0.3, 0.4, 0.3, 0.2, 0.3, 0.4, 0.3, 0.2, 0.3, 0.4, 0.3, 1.5, 0.3, 0.2, 0.3, 0.4],
    [2.5, 3.4, 10.5, 5.8, 3.7, 5.6, 4.4, 3.3, 1.0, 1.3, 1.6, 1.7, 0.5, 0.3, 0.2, 0.2, 0.3, 0.2, 0.3, 1.5, 0.3, 0.2, 0.3, 0.4, 0.3, 0.2, 0.3, 0.4, 0.3, 0.2, 0.3, 0.4, 0.3, 0.2, 0.3, 0.2],
    [2.8, 3.7, 8.3, 6.1, 4.0, 5.8, 4.5, 3.4, 1.0, 1.3, 1.6, 1.7, 0.5, 0.3, 0.2, 0.2, 0.3, 0.4, 0.3, 0.2, 0.3, 0.4, 0.3, 0.2, 0.3, 0.4, 2.5, 0.2, 0.3, 0.4, 0.3, 0.2, 0.3, 0.4, 0.3, 0.2],
    [2.6, 3.5, 8.0, 5.9, 3.9, 5.7, 4.5, 3.4, 1.0, 1.3, 1.6, 1.7, 0.5, 0.3, 0.2, 0.2, 0.3, 2.0, 0.3, 0.2, 0.3, 0.4, 0.3, 0.2, 0.3, 0.4, 0.3, 0.2, 0.3, 0.4, 1.0, 9.1, 1.0, 0.4, 0.3, 0.2],
    [2.7, 3.6, 9.8, 6.0, 4.0, 5.7, 4.5, 3.4, 1.0, 1.3, 1.6, 1.7, 0.5, 0.3, 0.2, 0.2, 0.3, 0.4, 0.3, 0.2, 0.3, 0.4, 0.3, 0.2, 0.3, 0.4, 0.3, 0.2, 0.3, 0.4, 2.0, 0.2, 0.3, 0.4, 0.3, 0.2],
    [3.0, 3.9, 8.6, 6.4, 4.2, 6.0, 4.7, 3.6, 1.1, 1.4, 1.7, 1.8, 0.5, 0.3, 0.2, 0.2, 0.3, 0.4, 0.3, 0.2, 0.3, 0.4, 0.3, 0.2, 0.3, 0.4, 0.3, 0.2, 0.5, 1.0, 6.3, 1.0, 0.5, 0.3, 0.2, 0.3],
    [2.4, 3.3, 7.6, 5.6, 3.6, 5.4, 4.3, 3.2, 0.9, 1.2, 1.5, 1.6, 0.4, 0.2, 0.2, 0.1, 0.2, 0.3, 0.2, 0.3, 0.2, 0.3, 0.2, 0.3, 0.2, 0.3, 4.9, 0.5, 0.3, 0.2, 0.3, 0.2, 0.3, 0.2, 0.3, 0.2],
    [2.7, 3.6, 6.8, 6.0, 4.0, 5.7, 4.5, 3.4, 1.0, 1.3, 1.6, 1.7, 0.5, 0.3, 0.2, 0.2, 0.3, 0.4, 0.3, 0.2, 0.3, 0.4, 0.3, 3.5, 0.3, 0.4, 0.3, 0.2, 0.3, 0.4, 0.3, 0.2, 0.3, 0.4, 0.3, 0.2],
    [2.9, 3.8, 8.4, 6.2, 1.5, 5.9, 4.6, 3.5, 1.1, 1.4, 1.7, 1.8, 0.5, 0.3, 0.2, 0.2, 0.3, 0.4, 0.3, 0.2, 0.3, 0.4, 0.3, 0.2, 0.3, 0.4, 0.3, 0.2, 0.3, 0.4, 0.3, 0.2, 0.3, 0.4, 0.3, 0.2],
    [2.6, 3.5, 8.0, 5.9, 3.9, 5.6, 4.4, 3.3, 1.0, 1.3, 1.6, 1.7, 10.3, 0.5, 0.2, 0.2, 0.3, 0.4, 0.3, 0.2, 0.3, 0.4, 0.3, 0.2, 0.3, 0.4, 0.3, 0.2, 0.3, 0.4, 0.3, 0.2, 0.3, 0.4, 0.3, 0.2],
    [2.8, 3.7, 8.2, 6.1, 4.0, 5.8, 4.5, 3.4, 1.0, 1.3, 1.6, 1.7, 0.5, 0.3, 0.2, 0.2, 0.3, 0.4, 0.3, 2.5, 0.3, 0.4, 0.3, 0.2, 0.3, 0.4, 0.3, 0.2, 0.3, 0.4, 0.3, 0.2, 0.3, 0.4, 0.3, 0.2],
    [2.5, 3.4, 7.9, 5.8, 3.8, 5.6, 4.4, 3.3, 1.0, 1.3, 1.6, 1.7, 0.5, 0.3, 0.2, 0.2, 0.3, 0.4, 0.3, 0.2, 2.0, 0.4, 0.3, 0.2, 0.3, 0.4, 0.3, 0.5, 8.3, 1.5, 0.3, 0.2, 0.3, 0.4, 0.3, 0.2],
    [2.7, 3.6, 11.0, 6.0, 4.0, 5.7, 4.5, 3.4, 1.0, 1.3, 1.6, 1.7, 0.5, 0.3, 0.2, 0.2, 0.3, 0.4, 0.3, 0.2, 0.3, 0.4, 0.3, 0.2, 0.3, 2.0, 0.3, 0.2, 0.3, 0.4, 0.3, 0.2, 0.3, 0.4, 0.3, 0.2],
    [2.9, 3.8, 8.4, 6.2, 4.1, 5.9, 4.6, 3.5, 1.1, 1.4, 1.7, 1.8, 0.5, 0.3, 0.2, 0.2, 0.3, 0.4, 0.3, 0.2, 0.3, 0.4, 0.3, 0.2, 0.3, 0.4, 0.3, 0.2, 0.3, 0.4, 0.3, 0.8, 1.5, 3.0, 7.1, 2.0],
    [2.6, 3.5, 7.0, 5.9, 3.9, 5.6, 4.4, 3.3, 1.0, 1.3, 1.6, 1.7, 0.5, 0.3, 0.2, 0.2, 0.3, 0.4, 0.3, 0.2, 0.3, 0.4, 0.3, 0.2, 0.3, 0.4, 0.3, 0.2, 0.3, 3.5, 0.3, 0.2, 0.3, 0.4, 0.3, 0.2],
    [2.8, 3.7, 8.2, 6.1, 4.0, 5.8, 4.5, 3.4, 1.0, 4.3, 1.6, 1.7, 0.5, 0.3, 0.2, 0.2, 0.3, 0.4, 0.3, 0.2, 0.3, 0.4, 0.3, 0.2, 0.3, 0.4, 0.3, 0.2, 0.3, 0.4, 0.3, 0.2, 0.3, 0.4, 0.3, 0.2],
    [2.5, 3.4, 7.9, 5.8, 3.8, 5.6, 4.4, 3.3, 1.0, 1.3, 1.6, 1.7, 0.5, 0.3, 0.2, 0.2, 0.3, 0.4, 0.3, 0.2, 0.3, 0.4, 0.3, 0.2, 0.3, 0.4, 0.3, 0.2, 0.3, 0.4, 0.3, 0.2, 2.5, 0.4, 0.3, 0.2],
    [2.7, 3.6, 10.2, 6.0, 4.0, 5.7, 4.5, 3.4, 1.0, 1.3, 1.6, 1.7, 0.5, 0.3, 0.2, 0.2, 0.3, 0.4, 0.3, 0.2, 0.3, 0.4, 0.3, 0.2, 0.3, 0.4, 0.3, 0.2, 0.3, 0.4, 0.3, 0.2, 0.3, 0.4, 3.0, 0.2],
    [2.9, 3.8, 8.4, 6.2, 4.1, 5.9, 4.6, 3.5, 1.1, 1.4, 1.7, 1.8, 0.5, 0.3, 0.2, 0.2, 0.3, 0.4, 0.3, 0.2, 0.3, 0.4, 0.3, 0.2, 0.3, 0.4, 0.3, 3.0, 0.3, 0.4, 0.3, 0.2, 0.3, 0.4, 0.3, 0.2],
]

# ---------------- layout helpers (pixel geometry of the page) ----------------
PLOT_L, PLOT_R, PLOT_T, PLOT_B = 50, 690, 0, 600
Y_RANGE = [-52.571, 33.143]
PRECIP_OFFSET = 45
FONT = "DejaVu Sans Mono"
ZW = "&#8203;"  # zero-width space keeps "mm" rendered as plain text


def px(x):
    return (x - PLOT_L) / (PLOT_R - PLOT_L)


def py(y):
    return (PLOT_B - y) / (PLOT_B - PLOT_T)


fig = go.Figure()

for i, col in enumerate(MEMBER_COLORS):
    common = dict(mode="lines+markers", line=dict(color=col, width=1),
                  marker=dict(symbol="cross-thin", size=3, line=dict(color=col, width=1)),
                  hoverinfo="skip", showlegend=False)
    fig.add_trace(go.Scatter(x=HOURS_12, y=T850_MEMBERS[i], **common))
    fig.add_trace(go.Scatter(x=HOURS_12, y=T500_MEMBERS[i], **common))
    fig.add_trace(go.Scatter(x=PRECIP_MEMBER_HOURS, y=PRECIP_MEMBERS[i], yaxis="y2", **common))

for xs, ys, ax in [(HOURS_6, CONTROL_T850, "y"), (HOURS_6, CONTROL_T500, "y"), (PRECIP_HOURS, CONTROL_PRECIP, "y2")]:
    fig.add_trace(go.Scatter(x=xs, y=ys, yaxis=ax, mode="lines",
                             line=dict(color="black", width=4), hoverinfo="skip", showlegend=False))
for xs, ys, ax in [(HOURS_6, MEAN_T850, "y"), (HOURS_6, MEAN_T500, "y"), (PRECIP_HOURS, MEAN_PRECIP, "y2")]:
    fig.add_trace(go.Scatter(x=xs, y=ys, yaxis=ax, mode="lines",
                             line=dict(color="#ff0000", width=5), hoverinfo="skip", showlegend=False))

annotations = []
shapes = []


def txt(x, y, text, size=10, bold=False, xanchor="left", yanchor="middle", angle=0, xref="paper", yref="paper"):
    annotations.append(dict(x=x, y=y, xref=xref, yref=yref, text=("<b>%s</b>" % text) if bold else text,
                            showarrow=False, xanchor=xanchor, yanchor=yanchor, textangle=angle,
                            font=dict(family=FONT, size=size, color="#000000")))


# axis tick labels
for v in LEFT_TICKS:
    txt(px(27), v, str(v), xanchor="center", yref="y")
for v in RIGHT_TICKS:
    txt(px(709), v, str(v), xanchor="left", yref="y2")
txt(px(31), py(607), "(°C)", xanchor="center")
txt(px(718), py(607), "(m" + ZW + "m)", xanchor="center")
for h, lab in zip(DATE_HOURS, DATE_LABELS):
    annotations.append(dict(x=h, y=py(616), xref="x", yref="paper", text=lab, showarrow=False,
                            xanchor="center", yanchor="middle", textangle=-90, xshift=5,
                            font=dict(family=FONT, size=10, color="black")))

# panel titles
txt(4.5, 6.0, "Temp. 850hPa", xref="x", yref="y")
txt(4.5, -18.1, "Temp. 500hPa", xref="x", yref="y")
txt(4.5, -31.6, "Précipitations", xref="x", yref="y")

# separator lines (0 and -30)
for v in [0, -30]:
    shapes.append(dict(type="line", xref="paper", yref="y", x0=0, x1=1, y0=v, y1=v,
                       line=dict(color="#a8a8a8", width=3), layer="below"))

# legend
shapes.append(dict(type="line", xref="paper", yref="paper", x0=px(35), x1=px(66), y0=py(639), y1=py(639),
                   line=dict(color="#ff0000", width=5)))
txt(px(74), py(639), "Moyenne des scénarios")
shapes.append(dict(type="line", xref="paper", yref="paper", x0=px(225), x1=px(257), y0=py(639), y1=py(639),
                   line=dict(color="black", width=5)))
txt(px(264), py(639), "Contrôle/Det")
txt(px(264), py(651), "CEP/ECMWF")
txt(px(369), py(654), "50 Perts.")

SW_X0, SW_PITCH = 428.0, 10.6
for k in range(25):
    x0 = SW_X0 + k * SW_PITCH
    for row, (ya, yb) in enumerate([(644.7, 651.0), (651.0, 657.7)]):
        shapes.append(dict(type="rect", xref="paper", yref="paper", x0=px(x0), x1=px(x0 + 10.0),
                           y0=py(yb), y1=py(ya), line=dict(width=0),
                           fillcolor=MEMBER_COLORS[k + 25 * row]))
    txt(px(x0 + 5.0), py(639.5), "%02d" % (k + 1), size=8.5, bold=True, xanchor="center")
    txt(px(x0 + 5.0), py(663.5), "%02d" % (k + 26), size=8.5, bold=True, xanchor="center")

# bottom info box
shapes.append(dict(type="rect", xref="paper", yref="paper", x0=px(20), x1=px(439), y0=py(699), y1=py(668),
                   line=dict(color="black", width=2), fillcolor="rgba(0,0,0,0)"))
txt(px(29), py(677), "Diagramme ensembles ECMWF/CEP 0.25° sur 360h : 41N 28.9E", size=12, bold=True)
txt(px(29), py(691.5), "Températures 850hPa et 500hPa (°C) , précipitations (m" + ZW + "m)", size=10)
txt(px(449), py(676), "Ensemble ECMWF/CEP du 12/01/2025 - 12Z", size=10.5)
txt(px(449), py(691.5), "Copyright 2025 Meteociel.fr - ECMWF", size=11.6, bold=True)

fig.update_layout(
    width=740, height=700,
    margin=dict(l=PLOT_L, r=740 - PLOT_R, t=PLOT_T, b=700 - PLOT_B),
    paper_bgcolor="white", plot_bgcolor="white", showlegend=False,
    xaxis=dict(range=[0, 360], tickvals=DATE_HOURS, showticklabels=False, ticks="",
               showgrid=True, gridcolor="#c0c0c0", gridwidth=2, zeroline=False,
               showline=True, linecolor="black", linewidth=2),
    yaxis=dict(range=Y_RANGE, tickvals=LEFT_TICKS, showticklabels=False, ticks="",
               showgrid=True, gridcolor="#c0c0c0", gridwidth=2, zeroline=False,
               showline=True, linecolor="black", linewidth=2, mirror=True),
    yaxis2=dict(range=[Y_RANGE[0] + PRECIP_OFFSET, Y_RANGE[1] + PRECIP_OFFSET], overlaying="y", side="right",
                showgrid=False, showticklabels=False, ticks="", zeroline=False, showline=False),
    annotations=annotations, shapes=shapes,
)

fig.write_html("out.html")
